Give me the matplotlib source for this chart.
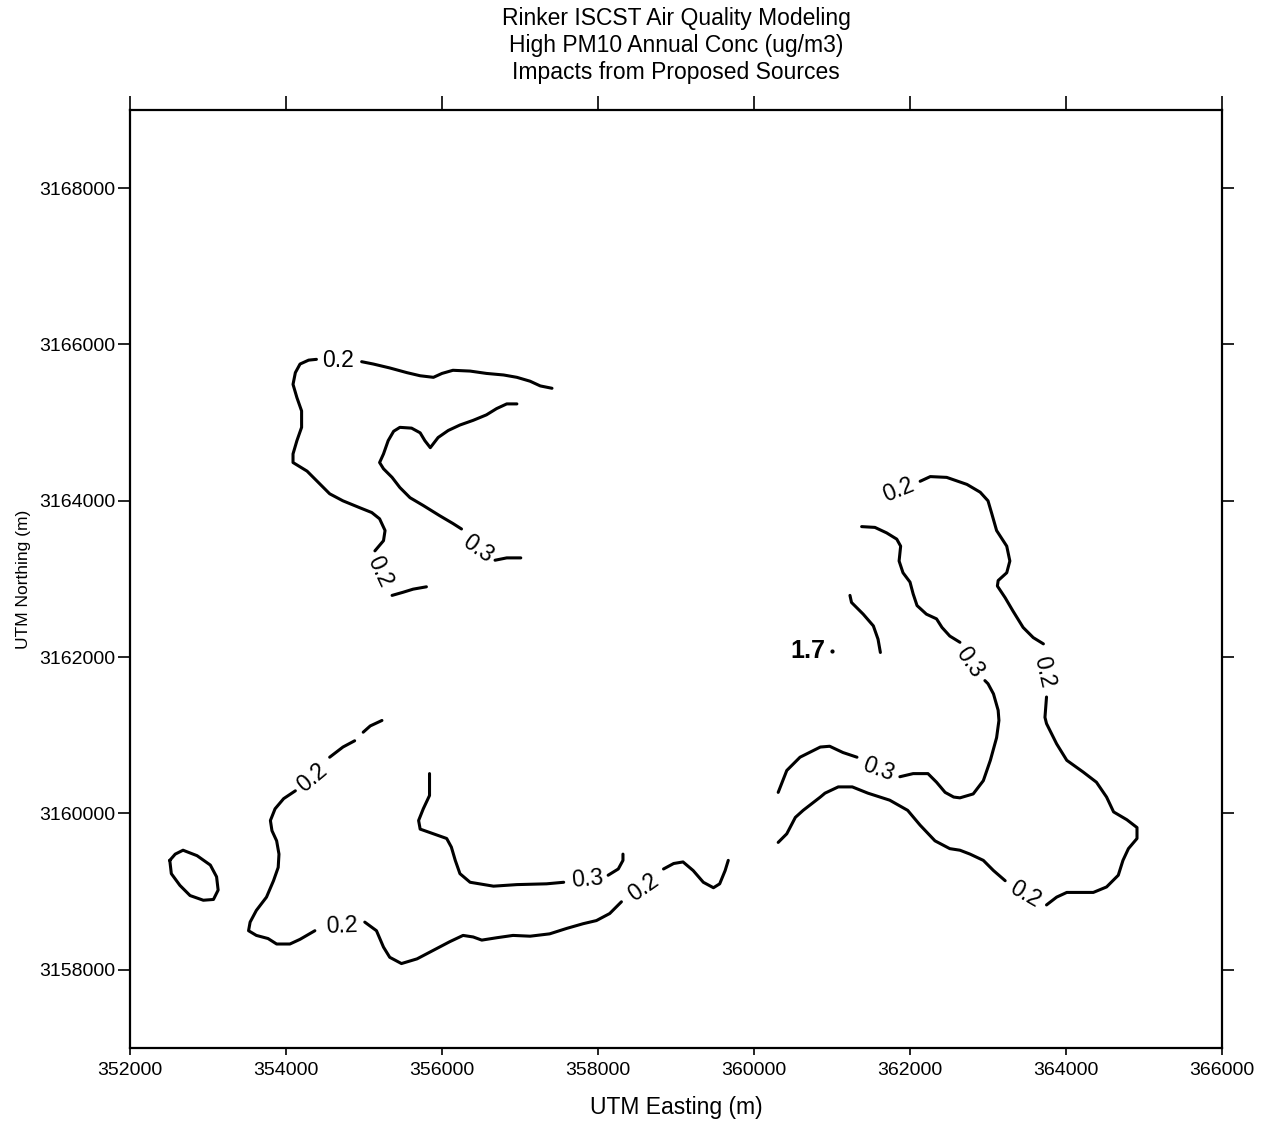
import matplotlib
matplotlib.use("Agg")
import matplotlib.pyplot as plt

plt.rcParams['font.family'] = ['Liberation Sans', 'DejaVu Sans']

# contour pieces (UTM easting / northing, m)
# upper-left 0.2 contour, three visible pieces between labels
nw02_a_x = [357410, 357260, 357130, 356960, 356790, 356570, 356360, 356140, 356000, 355890, 355720, 355550, 355330, 355120, 354970]
nw02_a_y = [3165440, 3165470, 3165530, 3165580, 3165610, 3165630, 3165660, 3165670, 3165630, 3165580, 3165600, 3165640, 3165700, 3165750, 3165780]
nw02_b_x = [354390, 354290, 354180, 354120, 354090, 354140, 354200, 354200, 354140, 354090, 354090, 354270, 354390, 354560, 354730, 354950, 355100, 355200, 355270, 355250, 355140]
nw02_b_y = [3165810, 3165800, 3165750, 3165640, 3165490, 3165320, 3165150, 3164940, 3164770, 3164600, 3164490, 3164380, 3164260, 3164090, 3164000, 3163910, 3163850, 3163770, 3163620, 3163490, 3163360]
nw02_c_x = [355360, 355500, 355630, 355800]
nw02_c_y = [3162790, 3162830, 3162870, 3162900]

# upper-left 0.3 contour
nw03_a_x = [356960, 356830, 356700, 356570, 356400, 356230, 356080, 355950, 355850, 355780, 355720, 355610, 355460, 355380, 355310, 355250, 355200, 355250, 355360, 355460, 355590, 355760, 355970, 356140, 356250]
nw03_a_y = [3165240, 3165240, 3165180, 3165100, 3165030, 3164970, 3164900, 3164810, 3164680, 3164770, 3164870, 3164930, 3164940, 3164890, 3164770, 3164600, 3164490, 3164410, 3164300, 3164170, 3164040, 3163940, 3163810, 3163710, 3163640]
nw03_b_x = [356680, 356830, 357010]
nw03_b_y = [3163240, 3163270, 3163270]

# southern 0.2 contour
s02_a_x = [355230, 355080, 354990]
s02_a_y = [3161190, 3161120, 3161040]
s02_b_x = [354880, 354730, 354560]
s02_b_y = [3160930, 3160850, 3160720]
s02_c_x = [354120, 353970, 353860, 353800, 353820, 353880, 353910, 353900, 353840, 353750, 353620, 353540, 353520, 353620, 353770, 353880, 354050, 354180, 354370]
s02_c_y = [3160290, 3160190, 3160060, 3159910, 3159780, 3159650, 3159480, 3159310, 3159140, 3158930, 3158760, 3158610, 3158500, 3158440, 3158400, 3158330, 3158330, 3158390, 3158500]
s02_d_x = [355010, 355160, 355250, 355330, 355480, 355680, 355890, 356100, 356270, 356400, 356510, 356700, 356910, 357130, 357380, 357600, 357810, 357980, 358150, 358300]
s02_d_y = [3158610, 3158500, 3158290, 3158160, 3158080, 3158140, 3158250, 3158360, 3158440, 3158420, 3158380, 3158410, 3158440, 3158430, 3158460, 3158530, 3158590, 3158630, 3158720, 3158870]
s02_e_x = [358840, 358970, 359090, 359220, 359350, 359480, 359560, 359630, 359670]
s02_e_y = [3159290, 3159360, 3159380, 3159270, 3159120, 3159050, 3159100, 3159270, 3159400]

# southern 0.3 contour
s03_a_x = [355840, 355840, 355760, 355700, 355720, 355890, 356060, 356120, 356170, 356230, 356360, 356660, 356960, 357340, 357560]
s03_a_y = [3160510, 3160230, 3160060, 3159910, 3159800, 3159740, 3159680, 3159570, 3159400, 3159230, 3159120, 3159070, 3159090, 3159100, 3159120]
s03_b_x = [358130, 358260, 358320, 358320]
s03_b_y = [3159210, 3159290, 3159400, 3159480]

# eastern 0.3 contour
e03_a_x = [360310, 360420, 360590, 360850, 360970, 361140, 361320]
e03_a_y = [3160270, 3160550, 3160720, 3160850, 3160860, 3160780, 3160720]
e03_b_x = [361870, 362040, 362230, 362340, 362450, 362560, 362640, 362810, 362940, 363030, 363110, 363140, 363130, 363070, 363000, 362960]
e03_b_y = [3160470, 3160510, 3160510, 3160400, 3160270, 3160210, 3160200, 3160250, 3160420, 3160680, 3160970, 3161190, 3161320, 3161530, 3161660, 3161700]
e03_c_x = [362640, 362510, 362410, 362340, 362210, 362090, 362040, 362000, 361910, 361860, 361880, 361830, 361700, 361550, 361380]
e03_c_y = [3162190, 3162270, 3162380, 3162490, 3162550, 3162660, 3162810, 3162960, 3163080, 3163230, 3163420, 3163510, 3163590, 3163660, 3163670]

# eastern 0.2 contour
e02_a_x = [360310, 360420, 360530, 360630, 360850, 360910, 361080, 361260, 361460, 361740, 361970, 362130, 362320, 362510, 362640, 362770, 362940, 363070, 363220]
e02_a_y = [3159630, 3159740, 3159950, 3160040, 3160210, 3160260, 3160340, 3160340, 3160260, 3160170, 3160040, 3159850, 3159650, 3159550, 3159530, 3159480, 3159400, 3159270, 3159140]
e02_b_x = [363750, 363880, 364010, 364350, 364520, 364670, 364730, 364800, 364910, 364910, 364780, 364610, 364520, 364390, 364220, 364010, 363880, 363750, 363730, 363750]
e02_b_y = [3158830, 3158930, 3158990, 3158990, 3159060, 3159210, 3159400, 3159550, 3159680, 3159820, 3159920, 3160020, 3160210, 3160400, 3160530, 3160680, 3160890, 3161150, 3161230, 3161490]
e02_c_x = [363710, 363580, 363450, 363320, 363220, 363120, 363130, 363240, 363280, 363240, 363110, 363050, 363000, 362900, 362730, 362470, 362260, 362130]
e02_c_y = [3162170, 3162250, 3162380, 3162590, 3162760, 3162910, 3162980, 3163080, 3163230, 3163420, 3163620, 3163830, 3164000, 3164110, 3164210, 3164300, 3164310, 3164250]

# short piece next to the maximum
max_arc_x = [361230, 361250, 361400, 361530, 361590, 361620]
max_arc_y = [3162790, 3162700, 3162550, 3162400, 3162230, 3162060]

# small closed loop to the west
loop_x = [352510, 352580, 352680, 352860, 353030, 353110, 353130, 353070, 352940, 352770, 352640, 352530, 352510]
loop_y = [3159400, 3159480, 3159530, 3159460, 3159340, 3159190, 3159020, 3158900, 3158890, 3158950, 3159080, 3159230, 3159400]

pieces = [
    (nw02_a_x, nw02_a_y), (nw02_b_x, nw02_b_y), (nw02_c_x, nw02_c_y),
    (nw03_a_x, nw03_a_y), (nw03_b_x, nw03_b_y),
    (s02_a_x, s02_a_y), (s02_b_x, s02_b_y), (s02_c_x, s02_c_y), (s02_d_x, s02_d_y), (s02_e_x, s02_e_y),
    (s03_a_x, s03_a_y), (s03_b_x, s03_b_y),
    (e03_a_x, e03_a_y), (e03_b_x, e03_b_y), (e03_c_x, e03_c_y),
    (e02_a_x, e02_a_y), (e02_b_x, e02_b_y), (e02_c_x, e02_c_y),
    (max_arc_x, max_arc_y), (loop_x, loop_y),
]

# contour labels: text, easting, northing, angle
contour_labels = [
    ("0.2", 354670, 3165790, 0),
    ("0.2", 355200, 3163100, -65),
    ("0.3", 356460, 3163390, -35),
    ("0.2", 354330, 3160460, 40),
    ("0.2", 354720, 3158560, 2),
    ("0.3", 357860, 3159160, 5),
    ("0.2", 358580, 3159050, 35),
    ("0.3", 361590, 3160570, -20),
    ("0.3", 362770, 3161930, -55),
    ("0.2", 363470, 3158970, -30),
    ("0.2", 363720, 3161810, -77),
    ("0.2", 361850, 3164140, 22),
]

max_value = "1.7"
max_x, max_y = 361000, 3162080

x_ticks = [352000, 354000, 356000, 358000, 360000, 362000, 364000, 366000]
y_ticks = [3158000, 3160000, 3162000, 3164000, 3166000, 3168000]

fig = plt.figure(figsize=(12.67, 11.26), dpi=100)
ax = fig.add_axes([0.1026, 0.0693, 0.8619, 0.833])

for px, py in pieces:
    ax.plot(px, py, color="black", lw=2.2, solid_capstyle="round", solid_joinstyle="round")

for txt, lx, ly, rot in contour_labels:
    ax.text(lx, ly, txt, fontsize=16.5, rotation=rot, ha="center", va="center",
            rotation_mode="anchor")

ax.plot([max_x], [max_y], marker="o", ms=2, color="black")
ax.text(max_x - 90, max_y, max_value, fontsize=18, fontweight="bold", ha="right", va="center")

ax.set_xlim(352000, 366000)
ax.set_ylim(3157000, 3169000)
ax.set_xticks(x_ticks)
ax.set_yticks(y_ticks)
ax.ticklabel_format(useOffset=False, style="plain")
ax.tick_params(axis="both", direction="out", width=1.2, labelsize=14, pad=2)
ax.tick_params(axis="y", length=8.5, right=True, labelright=False)
ax.tick_params(axis="x", length=5, top=True, labeltop=False)
ax.tick_params(axis="x", which="major", pad=5)
for s in ax.spines.values():
    s.set_linewidth(1.6)
for t in ax.xaxis.get_major_ticks():
    t.tick2line.set_markersize(10)

ax.set_xlabel("UTM Easting (m)", fontsize=16.5, labelpad=12)
ax.set_ylabel("UTM Northing (m)", fontsize=12.5, labelpad=6)

fig.text(0.5336, 0.984, "Rinker ISCST Air Quality Modeling", fontsize=16.5, ha="center", va="center")
fig.text(0.5336, 0.960, "High PM10 Annual Conc (ug/m3)", fontsize=16.5, ha="center", va="center")
fig.text(0.5336, 0.936, "Impacts from Proposed Sources", fontsize=16.5, ha="center", va="center")

fig.savefig("out.png", dpi=100, facecolor="white")
